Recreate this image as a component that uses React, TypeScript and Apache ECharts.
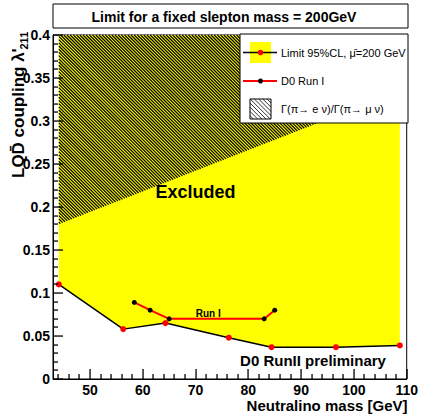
import React, { useEffect, useRef } from "react";
import * as echarts from "echarts";

// ---- data ----
const X_MIN = 43;
const X_MAX = 110;
const Y_MIN = 0;
const Y_MAX = 0.4;
const Y_INTERVAL = 0.05;
const X_MAJOR_TICKS = [50, 60, 70, 80, 90, 100, 110];
const X_MINOR_TICKS = [44, 46, 48, 52, 54, 56, 58, 62, 64, 66, 68, 72, 74, 76, 78, 82, 84, 86, 88, 92, 94, 96, 98, 102, 104, 106, 108];
const Y_MAJOR_TICKS = [0, 0.05, 0.1, 0.15, 0.2, 0.25, 0.3, 0.35, 0.4];
const Y_MINOR_TICKS = [
  0.01, 0.02, 0.03, 0.04, 0.06, 0.07, 0.08, 0.09, 0.11, 0.12, 0.13, 0.14,
  0.16, 0.17, 0.18, 0.19, 0.21, 0.22, 0.23, 0.24, 0.26, 0.27, 0.28, 0.29,
  0.31, 0.32, 0.33, 0.34, 0.36, 0.37, 0.38, 0.39,
];
// Limit 95%CL (neutralino mass GeV, coupling)
const LIMIT_95CL = [
  [44.1, 0.11],
  [56.3, 0.058],
  [64.3, 0.065],
  [76.3, 0.048],
  [84.4, 0.037],
  [96.6, 0.037],
  [108.7, 0.039],
];
// D0 Run I
const D0_RUN1 = [
  [58.4, 0.089],
  [61.4, 0.08],
  [65.0, 0.07],
  [83.0, 0.07],
  [85.0, 0.08],
];
// lower edge of pion-decay ratio excluded band
const PI_DECAY_BOUND = [
  [44.1, 0.18],
  [108.7, 0.335],
];
const RUN1_LABEL_POS = [72.4, 0.0765];

const TITLE = "Limit for a fixed slepton mass = 200GeV";
const X_TITLE = "Neutralino mass [GeV]";
const Y_TITLE_MAIN = "LQD\u0304 coupling \u03BB'";
const Y_TITLE_SUB = "211";
const LEGEND_LABELS = [
  "Limit 95%CL, \u03BC\u0304=200 GeV",
  "D0 Run I",
  "\u0393(\u03C0\u2192 e \u03BD)/\u0393(\u03C0\u2192 \u03BC \u03BD)",
];
const EXCLUDED_TEXT = "Excluded";
const PRELIM_TEXT = "D0 RunII preliminary";
const RUN1_TEXT = "Run I";

const FONT = "'Liberation Sans', Arial, Helvetica, sans-serif";
const MAJOR_LEN = 10;
const MINOR_LEN = 5;
const Y_TITLE_MAIN_WIDTH = 128;

function hatchLines(
  xL: number, xR: number, yTop: number, yBL: number, yBR: number,
  step: number, lw: number, z: number
) {
  const s = (yBR - yBL) / (xR - xL);
  const out: any[] = [];
  const cMin = Math.floor((xL - Math.max(yBL, yBR)) / step) * step;
  const cMax = xR - yTop;
  for (let c = cMin; c <= cMax; c += step) {
    const lo = Math.max(xL - c, yTop);
    const hi = Math.min(xR - c, (yBL + s * (c - xL)) / (1 - s));
    if (hi > lo) {
      out.push({
        type: "line",
        z,
        shape: { x1: lo + c, y1: lo, x2: hi + c, y2: hi },
        style: { stroke: "#000", lineWidth: lw },
      });
    }
  }
  return out;
}

export default function App() {
  const ref = useRef<HTMLDivElement>(null);

  useEffect(() => {
    if (!ref.current) return;
    const chart = echarts.init(ref.current, undefined, { renderer: "svg" });
    const Z = 100;

    const axisLabelStyle = {
      fontFamily: FONT,
      fontWeight: "bold" as const,
      fontSize: 14,
      color: "#000",
    };

    const LX = 240, LY = 34, LW = 168, LH = 89;
    const sq = { x: 250, y: 99, w: 21, h: 20 };

    const staticGraphic: any[] = [
      {
        type: "rect", z: Z,
        shape: { x: 53, y: 4, width: 355, height: 24 },
        style: { fill: "#fff", stroke: "#000", lineWidth: 1 },
      },
      {
        type: "text", z: Z, x: 224, y: 16.5,
        style: {
          text: TITLE, fontFamily: FONT, fontWeight: "bold", fontSize: 14,
          fill: "#000", align: "center", verticalAlign: "middle",
        },
      },
      {
        type: "rect", z: Z,
        shape: { x: LX, y: LY, width: LW, height: LH },
        style: { fill: "#fff", stroke: "#000", lineWidth: 1 },
      },
      {
        type: "rect", z: Z + 1,
        shape: { x: 250, y: 42, width: 21, height: 21 },
        style: { fill: "#ffff00" },
      },
      {
        type: "line", z: Z + 2,
        shape: { x1: 243, y1: 52.5, x2: 277, y2: 52.5 },
        style: { stroke: "#000", lineWidth: 1.5 },
      },
      {
        type: "circle", z: Z + 3,
        shape: { cx: 260.5, cy: 52.5, r: 2.8 },
        style: { fill: "#ff0000" },
      },
      {
        type: "text", z: Z + 1, x: 281, y: 52.5,
        style: {
          text: LEGEND_LABELS[0], fontFamily: FONT, fontSize: 11,
          fill: "#000", align: "left", verticalAlign: "middle",
        },
      },
      {
        type: "line", z: Z + 2,
        shape: { x1: 243, y1: 81, x2: 277, y2: 81 },
        style: { stroke: "#ff0000", lineWidth: 2 },
      },
      {
        type: "circle", z: Z + 3,
        shape: { cx: 260.5, cy: 81, r: 2.5 },
        style: { fill: "#000" },
      },
      {
        type: "text", z: Z + 1, x: 281, y: 81,
        style: {
          text: LEGEND_LABELS[1], fontFamily: FONT, fontSize: 11,
          fill: "#000", align: "left", verticalAlign: "middle",
        },
      },
      {
        type: "rect", z: Z + 1,
        shape: { x: sq.x, y: sq.y, width: sq.w, height: sq.h },
        style: { fill: "#fff", stroke: "#000", lineWidth: 1 },
      },
      ...hatchLines(sq.x, sq.x + sq.w, sq.y, sq.y + sq.h, sq.y + sq.h, 4.2, 0.8, Z + 2),
      {
        type: "text", z: Z + 1, x: 281, y: 109,
        style: {
          text: LEGEND_LABELS[2], fontFamily: FONT, fontSize: 11,
          fill: "#000", align: "left", verticalAlign: "middle",
        },
      },
      {
        type: "text", z: Z, x: 195.5, y: 192,
        style: {
          text: EXCLUDED_TEXT, fontFamily: FONT, fontWeight: "bold", fontSize: 18,
          fill: "#000", align: "center", verticalAlign: "middle",
        },
      },
      {
        type: "text", z: Z, x: 313, y: 360,
        style: {
          text: PRELIM_TEXT, fontFamily: FONT, fontWeight: "bold", fontSize: 15,
          fill: "#000", align: "center", verticalAlign: "middle",
        },
      },
      {
        type: "text", z: Z, x: 407.5, y: 405,
        style: {
          text: X_TITLE, fontFamily: FONT, fontWeight: "bold", fontSize: 15,
          fill: "#000", align: "right", verticalAlign: "middle",
        },
      },
      {
        type: "text", z: Z, x: 18, y: 178, rotation: Math.PI / 2,
        style: {
          text: Y_TITLE_MAIN, fontFamily: FONT, fontWeight: "bold", fontSize: 17,
          fill: "#000", align: "left", verticalAlign: "middle",
        },
      },
      {
        type: "text", z: Z, x: 24, y: 178 - Y_TITLE_MAIN_WIDTH - 0.5, rotation: Math.PI / 2,
        style: {
          text: Y_TITLE_SUB, fontFamily: FONT, fontWeight: "bold", fontSize: 11,
          fill: "#000", align: "left", verticalAlign: "middle",
        },
      },
    ];

    const option: any = {
      animation: false,
      backgroundColor: "#fff",
      grid: {
        left: 53, right: 13, top: 35, bottom: 38,
        show: true, borderColor: "#000", borderWidth: 1,
      },
      xAxis: {
        type: "value", min: X_MIN, max: X_MAX,
        axisLine: { show: true, onZero: false, lineStyle: { color: "#000", width: 1 } },
        axisTick: { show: false },
        axisLabel: { ...axisLabelStyle, customValues: X_MAJOR_TICKS, margin: 4 },
        splitLine: { show: false },
      },
      yAxis: {
        type: "value", min: Y_MIN, max: Y_MAX, interval: Y_INTERVAL,
        axisLine: { show: true, onZero: false, lineStyle: { color: "#000", width: 1 } },
        axisTick: { show: false },
        minorTick: { show: false },
        axisLabel: { ...axisLabelStyle, margin: 3, showMaxLabel: true, showMinLabel: true },
        splitLine: { show: false },
        minorSplitLine: { show: false },
      },
      series: [
        {
          type: "line",
          name: "Limit 95%CL",
          data: LIMIT_95CL,
          symbol: "circle",
          symbolSize: 6,
          itemStyle: { color: "#ff0000", borderWidth: 0 },
          lineStyle: { color: "#000", width: 1.5 },
          areaStyle: { color: "#ffff00", opacity: 1, origin: "end" },
          z: 2,
        },
        {
          type: "line",
          name: "D0 Run I",
          data: D0_RUN1,
          symbol: "circle",
          symbolSize: 5,
          itemStyle: { color: "#000", borderWidth: 0 },
          lineStyle: { color: "#ff0000", width: 2 },
          z: 4,
        },
      ],
      graphic: staticGraphic,
    };

    chart.setOption(option);

    const toPx = (pt: number[]) => chart.convertToPixel({ gridIndex: 0 }, pt) as number[];

    // hatched band through the chart's scales
    const pL = toPx(PI_DECAY_BOUND[0]);
    const pR = toPx(PI_DECAY_BOUND[1]);
    const top = toPx([PI_DECAY_BOUND[0][0], Y_MAX]);
    const hatchEls = pL && pR && top ? hatchLines(pL[0], pR[0], top[1], pL[1], pR[1], 3.2, 1.2, 10) : [];

    // Run I label
    const rl = toPx(RUN1_LABEL_POS);
    const labelEls = rl
      ? [{
          type: "text", z: 20, x: rl[0], y: rl[1],
          style: {
            text: RUN1_TEXT, fontFamily: FONT, fontWeight: "bold", fontSize: 10,
            fill: "#000", align: "center", verticalAlign: "middle",
          },
        }]
      : [];

    // axis ticks through the chart's scales
    const tickEls: any[] = [];
    const addX = (v: number, len: number) => {
      const p = toPx([v, Y_MIN]);
      if (!p) return;
      tickEls.push({
        type: "rect", z: Z + 50,
        shape: { x: Math.round(p[0]) - 0.6, y: Math.round(p[1]) - len, width: 1.3, height: len },
        style: { fill: "#000" },
      });
    };
    const addY = (v: number, len: number) => {
      const p = toPx([X_MIN, v]);
      if (!p) return;
      tickEls.push({
        type: "rect", z: Z + 50,
        shape: { x: Math.round(p[0]), y: Math.round(p[1]) - 0.6, width: len, height: 1.3 },
        style: { fill: "#000" },
      });
    };
    X_MAJOR_TICKS.forEach((v) => addX(v, MAJOR_LEN));
    X_MINOR_TICKS.forEach((v) => addX(v, MINOR_LEN));
    Y_MAJOR_TICKS.forEach((v) => addY(v, MAJOR_LEN));
    Y_MINOR_TICKS.forEach((v) => addY(v, MINOR_LEN));

    chart.setOption({ graphic: [...staticGraphic, ...hatchEls, ...labelEls, ...tickEls] });

    return () => {
      chart.dispose();
    };
  }, []);

  return (
    <div
      ref={ref}
      style={{ position: "fixed", left: 0, top: 0, width: 421, height: 417, background: "#fff" }}
    />
  );
}
